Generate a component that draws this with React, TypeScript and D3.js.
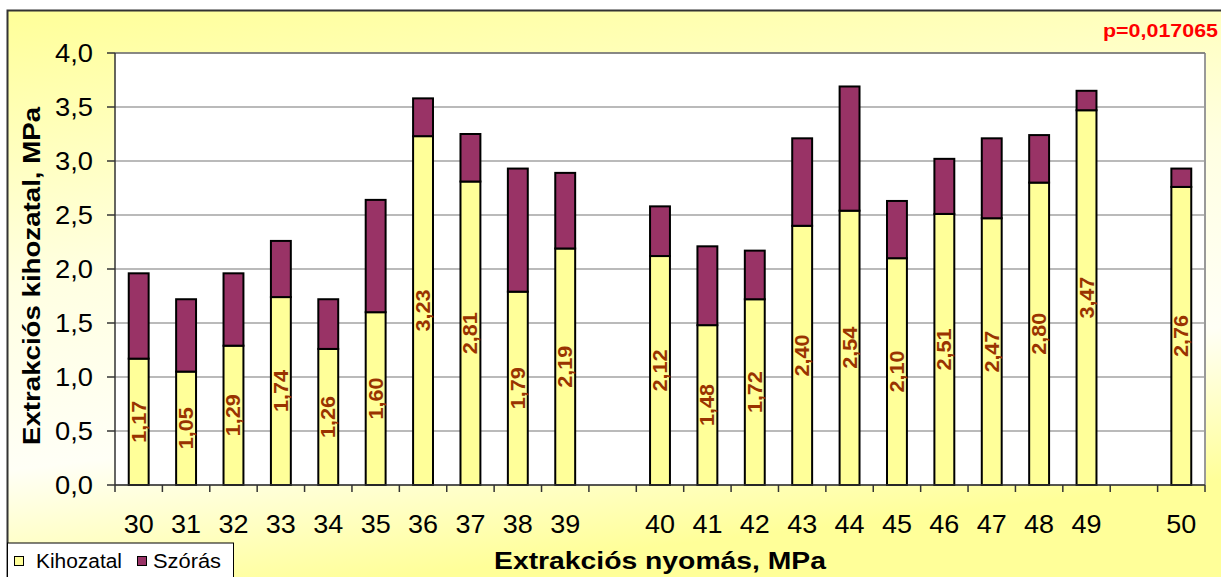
import React from "react";
import * as d3 from "d3";

const categories: (string | null)[] = [
  "30", "31", "32", "33", "34", "35", "36", "37", "38", "39", null,
  "40", "41", "42", "43", "44", "45", "46", "47", "48", "49", null, "50",
];
const kihozatal: (number | null)[] = [
  1.17, 1.05, 1.29, 1.74, 1.26, 1.6, 3.23, 2.81, 1.79, 2.19, null,
  2.12, 1.48, 1.72, 2.4, 2.54, 2.1, 2.51, 2.47, 2.8, 3.47, null, 2.76,
];
const szoras: (number | null)[] = [
  0.79, 0.67, 0.67, 0.52, 0.46, 1.04, 0.35, 0.44, 1.14, 0.7, null,
  0.46, 0.73, 0.45, 0.81, 1.15, 0.53, 0.51, 0.74, 0.44, 0.18, null, 0.17,
];
const yTicks = [0, 0.5, 1, 1.5, 2, 2.5, 3, 3.5, 4];
const seriesNames = ["Kihozatal", "Szórás"];
const xTitle = "Extrakciós nyomás, MPa";
const yTitle = "Extrakciós kihozatal, MPa";
const pText = "p=0,017065";

const W = 1221;
const H = 577;
const L = 115, R = 1205, T = 53, B = 485;
const YELLOW = "#FFFF99";
const PURPLE = "#993366";
const FONT = "Arial, 'Liberation Sans', sans-serif";

const comma = (v: number, d: number) => v.toFixed(d).replace(".", ",");

export default function App() {
  const idx = categories.map((_, i) => String(i));
  const x = d3.scaleBand<string>().domain(idx).range([L, R]).padding(0);
  const y = d3.scaleLinear().domain([0, 4]).range([B, T]);
  const step = x.step();
  const barW = step * 0.42;
  const boundaries = d3.range(categories.length + 1).map((i) => L + i * step);

  return (
    <svg width={W} height={H} style={{ position: "absolute", left: 0, top: 0, display: "block" }}>
      <defs>
        <linearGradient id="bg" x1="0" y1="0" x2="0.25" y2="1">
          <stop offset="0" stopColor="#FFFF99" />
          <stop offset="0.45" stopColor="#FFFFE2" />
          <stop offset="0.75" stopColor="#FFFFF6" />
          <stop offset="1" stopColor="#FFFF99" />
        </linearGradient>
      </defs>
      <rect x={0} y={0} width={W} height={H} fill="#fff" />
      <rect x={7.5} y={10.5} width={W} height={H} fill="url(#bg)" stroke="#333" strokeWidth={2} />

      {/* plot area */}
      <rect x={L} y={T} width={R - L} height={B - T} fill="#fff" />
      {yTicks.map((t) => (
        <line key={"g" + t} x1={L} x2={R} y1={y(t)} y2={y(t)} stroke="#777" strokeWidth={1.2} />
      ))}
      <line x1={R} x2={R} y1={T} y2={B} stroke="#999" strokeWidth={2} />
      <line x1={L} x2={R} y1={T} y2={T} stroke="#777" strokeWidth={1.5} />

      {/* bars */}
      {categories.map((c, i) => {
        const k = kihozatal[i];
        const s = szoras[i];
        if (c === null || k === null || s === null) return null;
        const bx = (x(String(i)) as number) + (step - barW) / 2;
        return (
          <g key={"b" + i}>
            <rect x={bx} y={y(k)} width={barW} height={y(0) - y(k)} fill={YELLOW} stroke="#000" strokeWidth={2} />
            <rect x={bx} y={y(k + s)} width={barW} height={y(k) - y(k + s)} fill={PURPLE} stroke="#000" strokeWidth={2} />
          </g>
        );
      })}
      {categories.map((c, i) => {
        const k = kihozatal[i];
        if (c === null || k === null) return null;
        const cx = (x(String(i)) as number) + step / 2;
        const cy = (y(0) + y(k)) / 2;
        return (
          <text
            key={"l" + i}
            transform={`translate(${cx + 7},${cy}) rotate(-90)`}
            textAnchor="middle"
            fontFamily={FONT}
            fontWeight="bold"
            fontSize={20}
            fill="#993300"
            textLength={42}
            lengthAdjust="spacingAndGlyphs"
          >
            {comma(k, 2)}
          </text>
        );
      })}

      {/* axes */}
      <line x1={L} x2={L} y1={T} y2={B} stroke="#333" strokeWidth={1.5} />
      <line x1={L} x2={R} y1={B} y2={B} stroke="#333" strokeWidth={1.5} />
      {yTicks.map((t) => (
        <g key={"yt" + t}>
          <line x1={L - 8} x2={L} y1={y(t)} y2={y(t)} stroke="#333" strokeWidth={1.5} />
          <text
            x={93}
            y={y(t) + 9}
            textAnchor="end"
            fontFamily={FONT}
            fontSize={25}
            fill="#000"
            textLength={38}
            lengthAdjust="spacingAndGlyphs"
          >
            {comma(t, 1)}
          </text>
        </g>
      ))}
      {boundaries.map((bx, i) => (
        <line key={"xt" + i} x1={bx} x2={bx} y1={B} y2={B + 7} stroke="#333" strokeWidth={1.5} />
      ))}
      {categories.map((c, i) =>
        c === null ? null : (
          <text
            key={"xl" + i}
            x={(x(String(i)) as number) + step / 2}
            y={533}
            textAnchor="middle"
            fontFamily={FONT}
            fontSize={25}
            fill="#000"
            textLength={30}
            lengthAdjust="spacingAndGlyphs"
          >
            {c}
          </text>
        )
      )}

      {/* titles */}
      <text
        x={660}
        y={569}
        textAnchor="middle"
        fontFamily={FONT}
        fontWeight="bold"
        fontSize={23}
        fill="#000"
        textLength={332}
        lengthAdjust="spacingAndGlyphs"
      >
        {xTitle}
      </text>
      <text
        transform={`translate(40,276) rotate(-90)`}
        textAnchor="middle"
        fontFamily={FONT}
        fontWeight="bold"
        fontSize={24}
        fill="#000"
        textLength={338}
        lengthAdjust="spacingAndGlyphs"
      >
        {yTitle}
      </text>
      <text
        x={1218}
        y={37}
        textAnchor="end"
        fontFamily={FONT}
        fontWeight="bold"
        fontSize={18}
        fill="#FF0000"
        textLength={115}
        lengthAdjust="spacingAndGlyphs"
      >
        {pText}
      </text>

      {/* legend */}
      <rect x={7.5} y={543} width={226} height={50} fill="#fff" stroke="#000" strokeWidth={1} />
      <rect x={14.5} y={556.5} width={9} height={9} fill={YELLOW} stroke="#000" strokeWidth={1} />
      <text x={36} y={567.5} fontFamily={FONT} fontSize={20} fill="#000" textLength={86} lengthAdjust="spacingAndGlyphs">
        {seriesNames[0]}
      </text>
      <rect x={137.5} y={556.5} width={9} height={9} fill={PURPLE} stroke="#000" strokeWidth={1} />
      <text x={153} y={567.5} fontFamily={FONT} fontSize={20} fill="#000" textLength={68} lengthAdjust="spacingAndGlyphs">
        {seriesNames[1]}
      </text>
    </svg>
  );
}
